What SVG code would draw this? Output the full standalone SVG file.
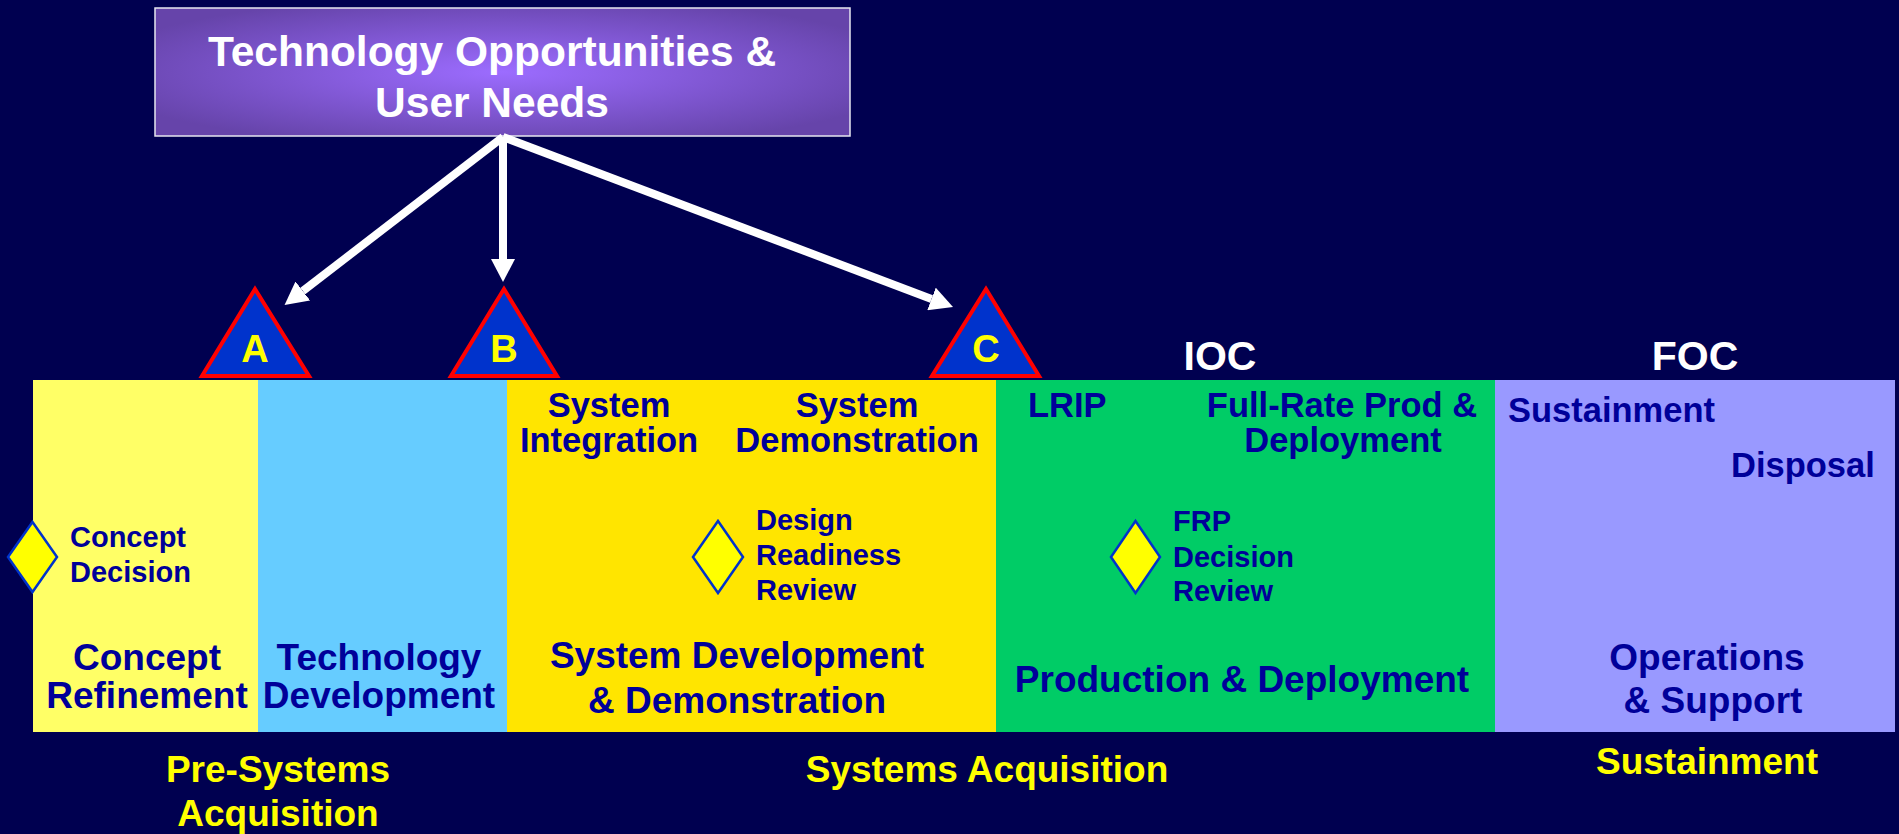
<svg xmlns="http://www.w3.org/2000/svg" width="1899" height="834" viewBox="0 0 1899 834">
<defs>
<radialGradient id="topgrad" cx="0.5" cy="0.5" r="0.6">
<stop offset="0" stop-color="#9c6cff"/>
<stop offset="1" stop-color="#6644aa"/>
</radialGradient>
<marker id="ah" markerUnits="userSpaceOnUse" markerWidth="23" markerHeight="24" refX="0" refY="12" orient="auto" viewBox="0 0 23 24">
<path d="M0,0 L23,12 L0,24 z" fill="#ffffff"/>
</marker>
</defs>
<style>
text{font-family:"Liberation Sans",Arial,sans-serif;font-weight:bold}
.b{fill:#000099}
.big{font-size:37px}
.mid{font-size:34.5px}
.sm{font-size:29px}
.ph{font-size:37px}
.y{fill:#ffff00}
.w{fill:#ffffff}
.tri{fill:#0033cc;stroke:#ff0000;stroke-width:4;stroke-linejoin:miter}
.dia{fill:#ffff00;stroke:#0033cc;stroke-width:2.5}
.conn{stroke:#ffffff;stroke-width:8;fill:none;marker-end:url(#ah)}
</style>
<rect x="0" y="0" width="1899" height="834" fill="#000050"/>

<g id="top">
<rect x="155" y="8" width="695" height="128" fill="url(#topgrad)" stroke="#e6e6f0" stroke-width="1.5"/>
<text class="w" x="492" y="66" font-size="42.5" text-anchor="middle">Technology Opportunities &amp;</text>
<text class="w" x="492" y="117" font-size="42.5" text-anchor="middle">User Needs</text>
</g>

<g id="connectors">
<line class="conn" x1="503" y1="137" x2="302.8" y2="291"/>
<line class="conn" x1="503" y1="137" x2="503" y2="259"/>
<line class="conn" x1="503" y1="137" x2="931.5" y2="298.9"/>
</g>

<g id="concept">
<rect x="33" y="380" width="225" height="352" fill="#ffff66"/>
<text class="b big" x="147" y="670" text-anchor="middle">Concept</text>
<text class="b big" x="147" y="708" text-anchor="middle">Refinement</text>
</g>
<g id="techdev">
<rect x="258" y="380" width="249" height="352" fill="#66ccff"/>
<text class="b big" x="379" y="670" text-anchor="middle">Technology</text>
<text class="b big" x="379" y="708" text-anchor="middle">Development</text>
</g>
<g id="sdd">
<rect x="507" y="380" width="489" height="352" fill="#ffe500"/>
<text class="b mid" x="609" y="417" text-anchor="middle">System</text>
<text class="b mid" x="609" y="452" text-anchor="middle">Integration</text>
<text class="b mid" x="857" y="417" text-anchor="middle">System</text>
<text class="b mid" x="857" y="452" text-anchor="middle">Demonstration</text>
<text class="b big" x="737" y="668" text-anchor="middle">System Development</text>
<text class="b big" x="737" y="713" text-anchor="middle">&amp; Demonstration</text>
</g>
<g id="pd">
<rect x="996" y="380" width="499" height="352" fill="#00cc66"/>
<text class="b mid" x="1028" y="417">LRIP</text>
<text class="b mid" x="1342" y="417" text-anchor="middle">Full-Rate Prod &amp;</text>
<text class="b mid" x="1343" y="452" text-anchor="middle">Deployment</text>
<text class="b big" x="1242" y="692" text-anchor="middle">Production &amp; Deployment</text>
</g>
<g id="os">
<rect x="1495" y="380" width="400" height="352" fill="#9999ff"/>
<text class="b mid" x="1508" y="422">Sustainment</text>
<text class="b mid" x="1731" y="477">Disposal</text>
<text class="b big" x="1707" y="670" text-anchor="middle">Operations</text>
<text class="b big" x="1713" y="713" text-anchor="middle">&amp; Support</text>
</g>

<g id="milestoneA">
<polygon class="tri" points="255,289 202,376 309,376"/>
<text class="y" x="255" y="362" font-size="38" text-anchor="middle">A</text>
</g>
<g id="milestoneB">
<polygon class="tri" points="504,289 451,376 557,376"/>
<text class="y" x="504" y="362" font-size="38" text-anchor="middle">B</text>
</g>
<g id="milestoneC">
<polygon class="tri" points="986,289 932,376 1039,376"/>
<text class="y" x="986" y="362" font-size="38" text-anchor="middle">C</text>
</g>

<g id="ioc"><text class="w" x="1220" y="370" font-size="41" text-anchor="middle">IOC</text></g>
<g id="foc"><text class="w" x="1695" y="370" font-size="41" text-anchor="middle">FOC</text></g>

<g id="conceptDecision">
<polygon class="dia" points="32.5,522 57,557 32.5,592 8,557"/>
<text class="b sm" x="70" y="547">Concept</text>
<text class="b sm" x="70" y="582">Decision</text>
</g>
<g id="drr">
<polygon class="dia" points="718,521 743,557 718,593 693,557"/>
<text class="b sm" x="756" y="530">Design</text>
<text class="b sm" x="756" y="565">Readiness</text>
<text class="b sm" x="756" y="600">Review</text>
</g>
<g id="frp">
<polygon class="dia" points="1135.5,521 1160,557 1135.5,593 1111,557"/>
<text class="b sm" x="1173" y="531">FRP</text>
<text class="b sm" x="1173" y="567">Decision</text>
<text class="b sm" x="1173" y="601">Review</text>
</g>

<g id="phases">
<text class="y ph" x="278" y="782" text-anchor="middle">Pre-Systems</text>
<text class="y ph" x="278" y="826" text-anchor="middle">Acquisition</text>
<text class="y ph" x="987" y="782" text-anchor="middle">Systems Acquisition</text>
<text class="y ph" x="1707" y="774" text-anchor="middle">Sustainment</text>
</g>
</svg>
